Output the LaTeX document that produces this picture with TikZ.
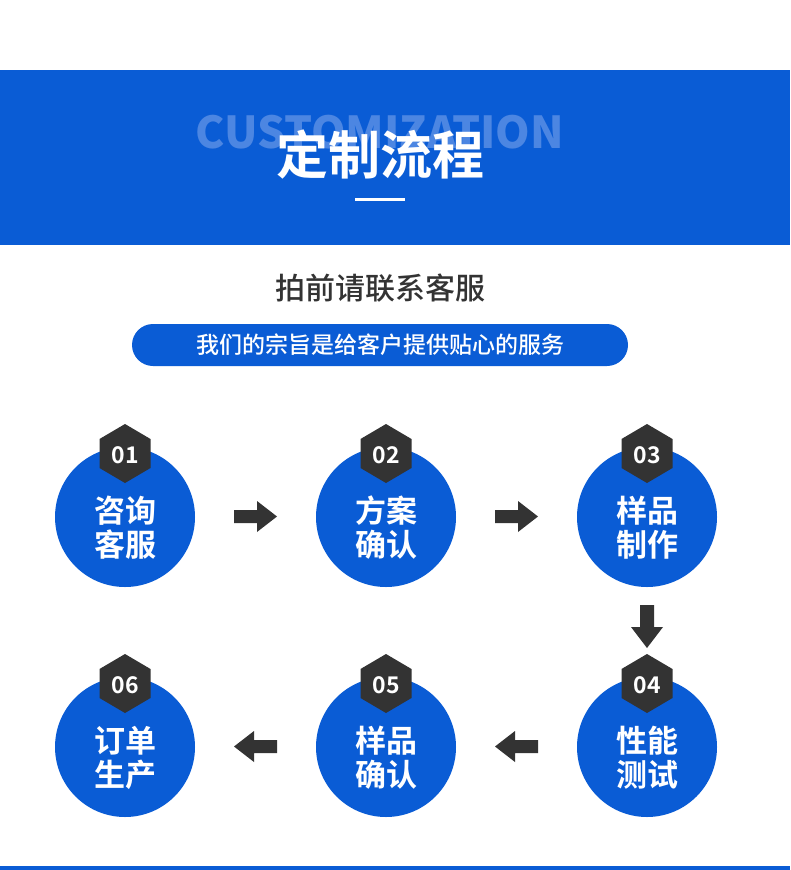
\documentclass[tikz,border=0pt]{standalone}
\usepackage{fontspec}
\setmainfont{Noto Sans CJK SC}
\newfontfamily\cjkb{Noto Sans CJK SC Bold}
\newfontfamily\cjkm{Noto Sans CJK SC Medium}
\begin{document}
\begin{tikzpicture}[x=1pt,y=-1pt,
  circ/.style={circle,fill=blu,minimum size=140pt,inner sep=0pt},
  lab/.style={text=white,font=\cjkb\fontsize{31}{34}\selectfont,align=center},
  hex/.style={fill=dk},
  num/.style={text=white,font=\cjkb\fontsize{23}{24}\selectfont},
  arr/.style={fill=dk}]
\definecolor{blu}{HTML}{0A5CD5}
\definecolor{dk}{HTML}{333333}
\definecolor{lb}{HTML}{4C86E2}
\useasboundingbox (0,0) rectangle (790,870);
\fill[white] (0,0) rectangle (790,870);
\fill[blu] (0,70) rectangle (790,245);
\node[text=lb,font=\fontsize{44}{46}\selectfont\bfseries] (en) at (380,132) {CUSTOMIZATION};
\node[text=white,font=\cjkb\fontsize{52}{56}\selectfont] (ti) at (380,155) {定制流程};
\fill[white] (355,198) rectangle (405,201);
\node[text=dk,font=\cjkm\fontsize{30}{32}\selectfont] (sub) at (380,288) {拍前请联系客服};
\node[fill=blu,rounded corners=21pt,minimum width=496pt,minimum height=42pt,text=white,font=\cjkm\fontsize{23}{24}\selectfont] (pill) at (380,345) {我们的宗旨是给客户提供贴心的服务};
\foreach \n/\x/\y/\t in {1/125/517/{咨询\\客服},2/386/517/{方案\\确认},3/647/517/{样品\\制作},4/647/747/{性能\\测试},5/386/747/{样品\\确认},6/125/747/{订单\\生产}}{
  \node[circ] (c\n) at (\x,\y) {};
  \node[lab] (t\n) at (\x,\y+11) {\t};
  \fill[hex] (\x,\y-93) -- (\x+25.5,\y-78) -- (\x+25.5,\y-49) -- (\x,\y-34) -- (\x-25.5,\y-49) -- (\x-25.5,\y-78) -- cycle;
  \node[num] (n\n) at (\x,\y-62) {0\n};
}
\foreach \x in {234,495}{
  \fill[arr] (\x,510) -- (\x+23,510) -- (\x+23,501) -- (\x+43,516.5) -- (\x+23,532) -- (\x+23,523) -- (\x,523) -- cycle;}
\foreach \x in {277,538}{
  \fill[arr] (\x,740) -- (\x-23,740) -- (\x-23,731) -- (\x-43,746.5) -- (\x-23,762) -- (\x-23,753) -- (\x,753) -- cycle;}
\fill[arr] (640,605) -- (654,605) -- (654,627) -- (663,627) -- (647,648) -- (631,627) -- (640,627) -- cycle;
\fill[blu] (0,866) rectangle (790,870);
\end{tikzpicture}
\end{document}
